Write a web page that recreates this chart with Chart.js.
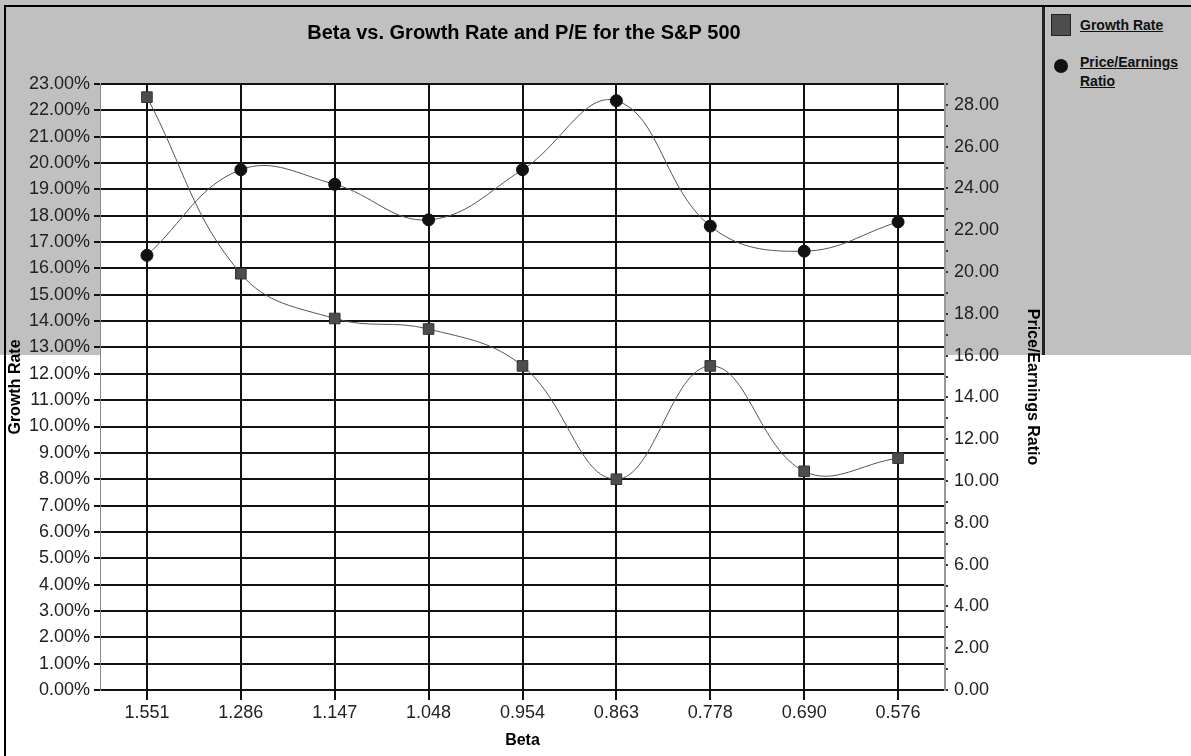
<!DOCTYPE html>
<html>
<head>
<meta charset="utf-8">
<script src="https://cdn.jsdelivr.net/npm/chart.js@4.4.1/dist/chart.umd.min.js"></script>
<style>
html,body{margin:0;padding:0;}
#wrap{position:relative;width:1191px;height:756px;overflow:hidden;
  background:linear-gradient(to bottom,#c0c0c0 0px,#c0c0c0 355px,#ffffff 355px);
  font-family:"Liberation Sans",Arial,sans-serif;}
#frame{position:absolute;left:4px;top:5px;width:1200px;height:760px;border-top:2px solid #000;border-left:2px solid #000;box-sizing:border-box;}
#box{position:absolute;left:6px;top:7px;width:1036px;height:749px;}
#legend{position:absolute;left:1042px;top:7px;width:149px;height:348px;border-left:3px solid #222;}
.item{position:absolute;left:8px;font-weight:bold;font-size:14px;text-decoration:underline;color:#111;line-height:19px;}
.sq{position:absolute;width:18px;height:20px;background:#4d4d4d;border:1px solid #222;}
.dot{position:absolute;width:14px;height:14px;border-radius:50%;background:#111;}
</style>
</head>
<body>
<div id="wrap">
  <div id="frame"></div>
  <div id="box"><canvas id="myChart"></canvas></div>
  <div id="legend">
    <div class="sq" style="left:6px;top:7px;"></div>
    <div class="item" style="left:35px;top:9px;">Growth Rate</div>
    <div class="dot" style="left:9px;top:52px;"></div>
    <div class="item" style="left:35px;top:46px;">Price/Earnings<br>Ratio</div>
  </div>
</div>
<script>
// beta buckets (x axis)
var betaLabels = ["1.551","1.286","1.147","1.048","0.954","0.863","0.778","0.690","0.576"];
// growth rate in percent (left axis)
var growthRate = [22.5, 15.8, 14.1, 13.7, 12.3, 8.0, 12.3, 8.3, 8.8];
// price / earnings (right axis)
var peRatio = [20.8, 24.9, 24.2, 22.5, 24.9, 28.2, 22.2, 21.0, 22.4];

var tickFont = {family:"Liberation Sans", size:18};
var titleFont = {family:"Liberation Sans", size:16, weight:"bold"};

var plotBg = {
  id:"plotBg",
  beforeDraw:function(chart){
    var a = chart.chartArea, c = chart.ctx;
    c.save(); c.fillStyle = "#ffffff";
    c.fillRect(a.left, a.top, a.right - a.left, a.bottom - a.top);
    c.restore();
  }
};

new Chart("myChart", {
  type: "line",
  data: {
    labels: betaLabels,
    datasets: [
      {
        label: "Growth Rate",
        data: growthRate,
        yAxisID: "y",
        borderColor: "#555555",
        borderWidth: 1,
        tension: 0.4,
        pointStyle: "rect",
        pointRadius: 7.5,
        pointBackgroundColor: "#4d4d4d",
        pointBorderColor: "#333333",
        pointBorderWidth: 1,
        fill: false
      },
      {
        label: "Price/Earnings Ratio",
        data: peRatio,
        yAxisID: "y1",
        borderColor: "#555555",
        borderWidth: 1,
        tension: 0.4,
        pointStyle: "circle",
        pointRadius: 6,
        pointBackgroundColor: "#111111",
        pointBorderColor: "#111111",
        fill: false
      }
    ]
  },
  options: {
    responsive: true,
    maintainAspectRatio: false,
    animation: false,
    layout: {padding: {left: 0, right: 0, top: 0, bottom: 0}},
    plugins: {
      legend: {display: false},
      tooltip: {enabled: false},
      title: {
        display: true,
        text: "Beta vs. Growth Rate and P/E for the S&P 500",
        color: "#000",
        font: {family:"Liberation Sans", size:20, weight:"bold"},
        padding: {top: 14, bottom: 39}
      }
    },
    scales: {
      x: {
        offset: true,
        grid: {color:"#111", lineWidth:2, offset:false, tickLength:10},
        border: {color:"#111", width:2},
        ticks: {font: tickFont, color:"#222", padding:2, maxRotation:0},
        title: {display:true, text:"Beta", font: titleFont, color:"#000", padding:{top:4, bottom:6}},
        afterFit: function(s){ s.height = 66; }
      },
      y: {
        position: "left",
        min: 0, max: 23,
        ticks: {stepSize:1, font: tickFont, color:"#222", padding:4,
          callback: function(v){ return v.toFixed(2) + "%"; }},
        grid: {color:"#111", lineWidth:2, tickLength:6},
        border: {color:"#888", width:1},
        title: {display:true, text:"Growth Rate", font: titleFont, color:"#000", padding:0},
        afterFit: function(s){ s.width = 94; }
      },
      y1: {
        position: "right",
        min: 0, max: 29,
        ticks: {stepSize:1, font: tickFont, color:"#222", padding:6, autoSkip:false,
          callback: function(v){ return v % 2 === 0 ? v.toFixed(2) : ""; }},
        grid: {drawOnChartArea:false, color:"#333", lineWidth:2, tickLength:3},
        border: {color:"#999", width:2},
        title: {display:true, text:"Price/Earnings Ratio", font: titleFont, color:"#000", padding:0},
        afterFit: function(s){ s.width = 97; }
      }
    }
  },
  plugins: [plotBg]
});
</script>
</body>
</html>
